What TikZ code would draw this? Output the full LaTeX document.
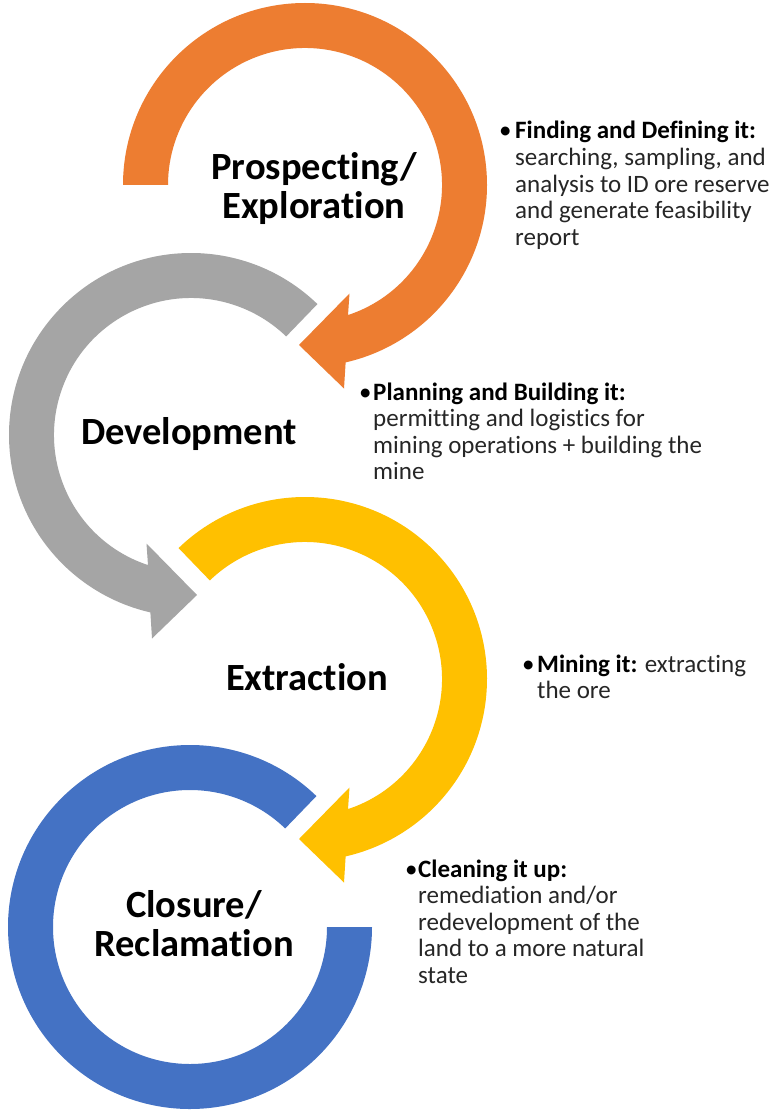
\documentclass[tikz,border=0pt]{standalone}
\usepackage{fontspec}
\setmainfont[Ligatures=NoCommon]{Carlito}
\definecolor{orangeC}{HTML}{ED7D31}
\definecolor{grayC}{HTML}{A5A5A5}
\definecolor{yellowC}{HTML}{FFC000}
\definecolor{blueC}{HTML}{4472C4}
\definecolor{descC}{HTML}{262626}
\newcommand\titlefnt{\bfseries\fontsize{38.5}{39}\selectfont}
\newcommand\descfnt{\fontsize{25}{26.6}\selectfont}
\newcommand\bul[1]{\makebox[#1][l]{\hspace*{-3pt}\color{black}•}}
\tikzset{
  titlenode/.style={font=\titlefnt, anchor=base, inner sep=0pt},
  descnode/.style={font=\descfnt, text=descC, anchor=base west, inner sep=0pt},
}
\begin{document}
\begin{tikzpicture}[x=1pt,y=1pt]
\fill[white] (0,0) rectangle (768,-1110);
\useasboundingbox (0,0) rectangle (768,-1110);

\coordinate (cO) at (305,-185);
\coordinate (cG) at (191,-435);
\coordinate (cY) at (305,-679);
\coordinate (cB) at (190,-927);

% blue ring
\fill[blueC] ([shift={(cB)}]46:182pt) arc[start angle=46, end angle=360, radius=182pt]
  -- ([shift={(cB)}]0:137pt) arc[start angle=360, end angle=46, radius=137pt] -- cycle;

% yellow arrow
\fill[yellowC] ([shift={(cY)}]134:182pt) arc[start angle=134, end angle=-77.1, radius=182pt]
  -- ([shift={(cY)}]39,-203.5) -- ([shift={(cY)}]-6,-160) -- ([shift={(cY)}]44.5,-108.5)
  -- ([shift={(cY)}]-71.7:137pt) arc[start angle=-71.7, end angle=134, radius=137pt] -- cycle;

% gray arrow
\fill[grayC] ([shift={(cG)}]46:182pt) arc[start angle=46, end angle=257.1, radius=182pt]
  -- ([shift={(cG)}]-39,-203.5) -- ([shift={(cG)}]6,-160) -- ([shift={(cG)}]-44.5,-108.5)
  -- ([shift={(cG)}]251.7:137pt) arc[start angle=251.7, end angle=46, radius=137pt] -- cycle;

% orange arrow
\fill[orangeC] ([shift={(cO)}]180:182pt) arc[start angle=180, end angle=-77.1, radius=182pt]
  -- ([shift={(cO)}]39,-203.5) -- ([shift={(cO)}]-6,-160) -- ([shift={(cO)}]44.5,-108.5)
  -- ([shift={(cO)}]-71.7:137pt) arc[start angle=-71.7, end angle=180, radius=137pt] -- cycle;

% titles
\node[titlenode] (t1) at (314,-180) {\begin{tabular}[t]{@{}c@{}}Prospecting/\\Exploration\end{tabular}};
\node[titlenode] (t2) at (189,-444) {Development};
\node[titlenode] (t3) at (307,-690) {Extraction};
\node[titlenode] (t4) at (194,-917) {\begin{tabular}[t]{@{}c@{}}Closure/\\Reclamation\end{tabular}};

% descriptions
\node[descnode] (d1) at (502,-139) {\bul{13pt}\begin{tabular}[t]{@{}l@{}}\textcolor{black}{\textbf{Finding and Defining it:}}\\searching, sampling, and\\analysis to ID ore reserve\\and generate feasibility\\report\end{tabular}};
\node[descnode] (d2) at (362,-400) {\bul{11pt}\begin{tabular}[t]{@{}l@{}}\textcolor{black}{\textbf{Planning and Building it:}}\\permitting and logistics for\\mining operations + building the\\mine\end{tabular}};
\node[descnode] (d3) at (525,-672) {\bul{12pt}\begin{tabular}[t]{@{}l@{}}\textcolor{black}{\textbf{Mining it:}} extracting\\the ore\end{tabular}};
\node[descnode] (d4) at (408,-877) {\bul{10pt}\begin{tabular}[t]{@{}l@{}}\textcolor{black}{\textbf{Cleaning it up:}}\\remediation and/or\\redevelopment of the\\land to a more natural\\state\end{tabular}};
\end{tikzpicture}
\end{document}
